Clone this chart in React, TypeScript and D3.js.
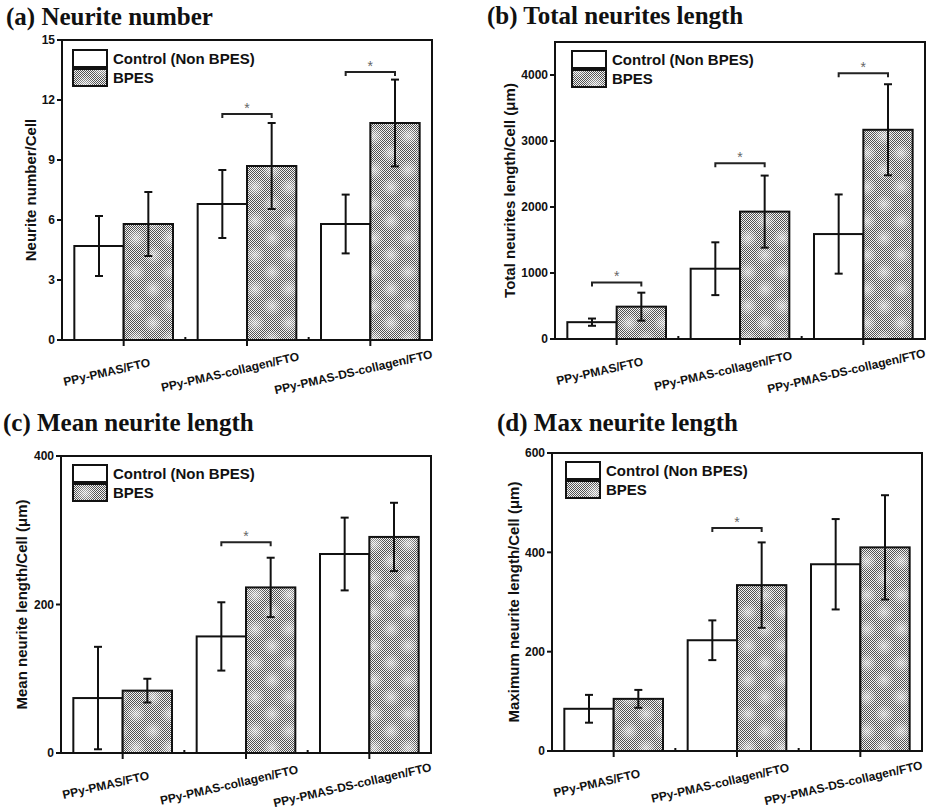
import React from "react";
import * as d3 from "d3";

// Substrates tested (x categories) and the two culture conditions
const categories = ["PPy-PMAS/FTO", "PPy-PMAS-collagen/FTO", "PPy-PMAS-DS-collagen/FTO"];
const seriesNames = ["Control (Non BPES)", "BPES"];

// (a) Neurite number per cell
const numberControl = [4.7, 6.8, 5.8];
const numberControlErr = [1.5, 1.7, 1.47];
const numberBpes = [5.8, 8.7, 10.85];
const numberBpesErr = [1.6, 2.15, 2.17];
const numberSig = [1, 2];
const numberSigLevel = [11.3, 13.4];
const numberTicks = [0, 3, 6, 9, 12, 15];

// (b) Total neurites length per cell (µm)
const totalControl = [255, 1065, 1590];
const totalControlErr = [55, 400, 600];
const totalBpes = [490, 1930, 3170];
const totalBpesErr = [212, 546, 690];
const totalSig = [0, 1, 2];
const totalSigLevel = [857, 2662, 4026];
const totalTicks = [0, 1000, 2000, 3000, 4000];

// (c) Mean neurite length per cell (µm)
const meanControl = [74, 157, 268];
const meanControlErr = [69, 46, 49];
const meanBpes = [84, 223, 291];
const meanBpesErr = [16, 40, 46];
const meanSig = [1];
const meanSigLevel = [284];
const meanTicks = [0, 200, 400];

// (d) Maximum neurite length per cell (µm)
const maxControl = [85, 223, 376];
const maxControlErr = [28, 40, 91];
const maxBpes = [105, 334, 410];
const maxBpesErr = [18, 86, 105];
const maxSig = [1];
const maxSigLevel = [449];
const maxTicks = [0, 200, 400, 600];

const SANS = "'Liberation Sans', Arial, sans-serif";
const SERIF = "'Liberation Serif', 'Times New Roman', serif";

type PanelProps = {
  title: string;
  titleX: number;
  titleY: number;
  yLabel: string;
  yLabelOffset: number;
  left: number;
  right: number;
  top: number;
  bottom: number;
  yMax: number;
  ticks: number[];
  control: number[];
  controlErr: number[];
  bpes: number[];
  bpesErr: number[];
  sig: number[];
  sigLevel: number[];
  legendDx: number;
  legendDy: number;
};

function Panel(p: PanelProps) {
  const x = d3.scaleBand<string>().domain(categories).range([p.left, p.right]).padding(0);
  const y = d3.scaleLinear().domain([0, p.yMax]).range([p.bottom, p.top]);
  const step = x.step();
  const bw = step * 0.4;
  const center = (c: string) => (x(c) as number) + step / 2;
  const cap = 4;

  const bars = categories.flatMap((c, i) => [
    { key: `c${i}`, x0: center(c) - bw, v: p.control[i], e: p.controlErr[i], fill: "#ffffff" },
    { key: `b${i}`, x0: center(c), v: p.bpes[i], e: p.bpesErr[i], fill: "url(#bpesFill)" },
  ]);

  const lx = p.left + p.legendDx;
  const ly = p.top + p.legendDy;
  const yMid = (p.top + p.bottom) / 2;

  return (
    <g>
      <text x={p.titleX} y={p.titleY} fontFamily={SERIF} fontWeight="bold" fontSize={25} fill="#111">
        {p.title}
      </text>

      {bars.map((b) => (
        <rect
          key={b.key}
          x={b.x0}
          y={y(b.v)}
          width={bw}
          height={p.bottom - y(b.v)}
          fill={b.fill}
          stroke="#111"
          strokeWidth={2}
        />
      ))}

      {bars.map((b) => {
        const cx = b.x0 + bw / 2;
        const hi = y(b.v + b.e);
        const lo = y(Math.max(0, b.v - b.e));
        return (
          <g key={"e" + b.key} stroke="#111" strokeWidth={2}>
            <line x1={cx} x2={cx} y1={hi} y2={lo} />
            <line x1={cx - cap} x2={cx + cap} y1={hi} y2={hi} />
            <line x1={cx - cap} x2={cx + cap} y1={lo} y2={lo} />
          </g>
        );
      })}

      {p.sig.map((gi, k) => {
        const c = categories[gi];
        const x1 = center(c) - bw / 2;
        const x2 = center(c) + bw / 2;
        const yy = y(p.sigLevel[k]);
        return (
          <g key={"s" + gi}>
            <path
              d={`M${x1},${yy + 4}V${yy}H${x2}V${yy + 4}`}
              fill="none"
              stroke="#222"
              strokeWidth={2}
            />
            <text x={(x1 + x2) / 2} y={yy - 1} textAnchor="middle" fontFamily={SANS} fontSize={14} fill="#666">
              *
            </text>
          </g>
        );
      })}

      {/* frame */}
      <rect x={p.left} y={p.top} width={p.right - p.left} height={p.bottom - p.top} fill="none" stroke="#111" strokeWidth={2} />

      {/* y ticks */}
      {p.ticks.map((t) => (
        <g key={"yt" + t}>
          <line x1={p.left - 5} x2={p.left} y1={y(t)} y2={y(t)} stroke="#111" strokeWidth={2} />
          <text
            x={p.left - 7}
            y={y(t)}
            dy="0.35em"
            textAnchor="end"
            fontFamily={SANS}
            fontWeight="bold"
            fontSize={12}
            fill="#111"
          >
            {t}
          </text>
        </g>
      ))}

      {/* x ticks: major at category centres, minor between groups */}
      {categories.map((c) => (
        <line key={"xt" + c} x1={center(c)} x2={center(c)} y1={p.bottom} y2={p.bottom + 6} stroke="#111" strokeWidth={2} />
      ))}
      {categories.slice(1).map((c) => (
        <line
          key={"xm" + c}
          x1={x(c) as number}
          x2={x(c) as number}
          y1={p.bottom}
          y2={p.bottom - 3}
          stroke="#111"
          strokeWidth={2}
        />
      ))}
      {categories.map((c) => (
        <text
          key={"xl" + c}
          transform={`translate(${center(c) - 16},${p.bottom + 36}) rotate(-13)`}
          textAnchor="middle"
          fontFamily={SANS}
          fontWeight="bold"
          fontSize={12}
          fill="#111"
        >
          {c}
        </text>
      ))}

      <text
        transform={`translate(${p.left - p.yLabelOffset},${yMid}) rotate(-90)`}
        textAnchor="middle"
        dy="0.35em"
        fontFamily={SANS}
        fontWeight="bold"
        fontSize={15}
        fill="#111"
      >
        {p.yLabel}
      </text>

      {/* legend */}
      <rect x={lx} y={ly} width={34} height={17} fill="#fff" stroke="#111" strokeWidth={2} />
      <rect x={lx} y={ly + 19} width={34} height={17} fill="url(#bpesFill)" stroke="#111" strokeWidth={2} />
      <text x={lx + 40} y={ly + 9} dy="0.36em" fontFamily={SANS} fontWeight="bold" fontSize={15} fill="#111">
        {seriesNames[0]}
      </text>
      <text x={lx + 40} y={ly + 28} dy="0.36em" fontFamily={SANS} fontWeight="bold" fontSize={15} fill="#111">
        {seriesNames[1]}
      </text>
    </g>
  );
}

export default function App() {
  return (
    <svg
      width={936}
      height={812}
      style={{ position: "absolute", left: 0, top: 0, background: "#fff" }}
      viewBox="0 0 936 812"
    >
      <defs>
        {/* fine cross-hatch used for the BPES bars */}
        <pattern id="checker" width={2} height={2} patternUnits="userSpaceOnUse">
          <rect width={2} height={2} fill="#f2f2f2" />
          <rect width={1} height={1} fill="#505050" />
          <rect x={1} y={1} width={1} height={1} fill="#505050" />
        </pattern>
        <radialGradient id="spot">
          <stop offset="0%" stopColor="#ffffff" stopOpacity={0.6} />
          <stop offset="60%" stopColor="#ffffff" stopOpacity={0.25} />
          <stop offset="100%" stopColor="#ffffff" stopOpacity={0} />
        </radialGradient>
        <pattern id="bpesFill" width={34} height={34} patternUnits="userSpaceOnUse">
          <rect width={34} height={34} fill="url(#checker)" />
          <circle cx={0} cy={0} r={10} fill="url(#spot)" />
          <circle cx={34} cy={0} r={10} fill="url(#spot)" />
          <circle cx={0} cy={34} r={10} fill="url(#spot)" />
          <circle cx={34} cy={34} r={10} fill="url(#spot)" />
          <circle cx={17} cy={17} r={10} fill="url(#spot)" />
        </pattern>
      </defs>
      <rect width={936} height={812} fill="#fff" />

      <Panel
        title="(a) Neurite number"
        titleX={6}
        titleY={25}
        yLabel="Neurite number/Cell"
        yLabelOffset={31}
        left={62}
        right={432}
        top={40}
        bottom={340}
        yMax={15}
        ticks={numberTicks}
        control={numberControl}
        controlErr={numberControlErr}
        bpes={numberBpes}
        bpesErr={numberBpesErr}
        sig={numberSig}
        sigLevel={numberSigLevel}
        legendDx={11}
        legendDy={10}
      />
      <Panel
        title="(b) Total neurites length"
        titleX={487}
        titleY={24}
        yLabel="Total neurites length/Cell (μm)"
        yLabelOffset={45}
        left={555}
        right={925}
        top={42}
        bottom={339}
        yMax={4500}
        ticks={totalTicks}
        control={totalControl}
        controlErr={totalControlErr}
        bpes={totalBpes}
        bpesErr={totalBpesErr}
        sig={totalSig}
        sigLevel={totalSigLevel}
        legendDx={17}
        legendDy={9}
      />
      <Panel
        title="(c) Mean neurite length"
        titleX={3}
        titleY={431}
        yLabel="Mean neurite length/Cell (μm)"
        yLabelOffset={39}
        left={61}
        right={431}
        top={456}
        bottom={753}
        yMax={400}
        ticks={meanTicks}
        control={meanControl}
        controlErr={meanControlErr}
        bpes={meanBpes}
        bpesErr={meanBpesErr}
        sig={meanSig}
        sigLevel={meanSigLevel}
        legendDx={12}
        legendDy={9}
      />
      <Panel
        title="(d) Max neurite length"
        titleX={497}
        titleY={431}
        yLabel="Maximum neurite length/Cell (μm)"
        yLabelOffset={38}
        left={552}
        right={922}
        top={453}
        bottom={751}
        yMax={600}
        ticks={maxTicks}
        control={maxControl}
        controlErr={maxControlErr}
        bpes={maxBpes}
        bpesErr={maxBpesErr}
        sig={maxSig}
        sigLevel={maxSigLevel}
        legendDx={14}
        legendDy={9}
      />
    </svg>
  );
}
